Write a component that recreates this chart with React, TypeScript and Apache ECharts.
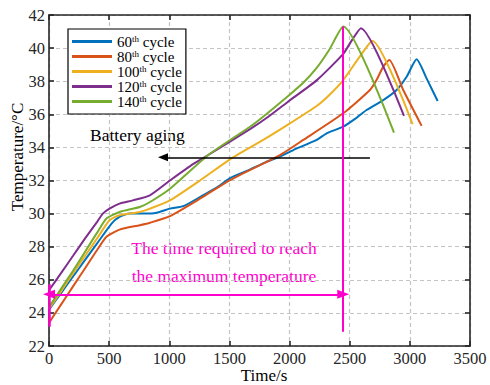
import React, { useEffect, useRef } from "react";
import * as echarts from "echarts";

// ---- data ----
const seriesNames = ["60th cycle", "80th cycle", "100th cycle", "120th cycle", "140th cycle"];
const seriesColors = ["#0072BD", "#D95319", "#EDB120", "#7E2F8E", "#77AC30"];

const t60 = [0, 100, 200, 300, 400, 520, 586, 669, 750, 840, 920, 1006, 1117, 1255, 1400, 1505, 1650, 1800, 1920, 2031, 2225, 2308, 2446, 2550, 2640, 2779, 2890, 2973, 3056, 3139, 3231];
const T60 = [24.2, 25.2, 26.2, 27.2, 28.2, 29.4, 29.8, 30.0, 30.0, 30.0, 30.1, 30.3, 30.45, 31.0, 31.6, 32.15, 32.6, 33.1, 33.45, 33.84, 34.45, 34.85, 35.25, 35.75, 36.26, 36.86, 37.47, 38.27, 39.32, 38.17, 36.8];

const t80 = [0, 100, 200, 300, 400, 478, 586, 755, 840, 1006, 1255, 1505, 1920, 2114, 2446, 2668, 2723, 2779, 2829, 2945, 3098];
const T80 = [23.4, 24.5, 25.6, 26.7, 27.8, 28.6, 29.03, 29.3, 29.45, 29.85, 30.9, 32.03, 33.54, 34.45, 36.06, 37.47, 38.07, 38.88, 39.28, 37.47, 35.3];

const t100 = [0, 100, 200, 300, 400, 503, 586, 755, 840, 1006, 1255, 1505, 1781, 2003, 2225, 2335, 2446, 2585, 2688, 3023];
const T100 = [24.25, 25.3, 26.4, 27.45, 28.5, 29.6, 29.9, 30.1, 30.3, 30.8, 32.0, 33.28, 34.45, 35.45, 36.5, 37.2, 38.07, 39.5, 40.45, 35.4];

const t120 = [0, 100, 200, 300, 400, 447, 503, 586, 697, 838, 1006, 1200, 1324, 1671, 1823, 2003, 2225, 2446, 2520, 2593, 2951];
const T120 = [25.37, 26.4, 27.45, 28.5, 29.5, 30.0, 30.3, 30.6, 30.8, 31.1, 32.0, 33.0, 33.54, 35.1, 35.85, 36.85, 38.05, 39.65, 40.5, 41.2, 35.9];

const t140 = [0, 100, 200, 300, 400, 478, 586, 755, 840, 1006, 1324, 1671, 1754, 2003, 2120, 2225, 2330, 2446, 2868];
const T140 = [24.35, 25.45, 26.55, 27.7, 28.85, 29.7, 30.1, 30.4, 30.7, 31.5, 33.54, 35.25, 35.7, 37.2, 37.95, 38.8, 39.9, 41.3, 34.89];

const times = [t60, t80, t100, t120, t140];
const temps = [T60, T80, T100, T120, T140];

// annotations (data coordinates)
const agingArrowFrom = [2668, 33.4];
const agingArrowTo = [948, 33.4];
const timeArrowFrom = [0, 25.12];
const timeArrowTo = [2446, 25.12];
const peakLineTop = [2446, 41.3];
const peakLineBottom = [2446, 22.86];
const axisMarkTop = [0, 25.73];
const axisMarkBottom = [0, 23.17];

const xMin = 0, xMax = 3500, xStep = 500;
const yMin = 22, yMax = 42, yStep = 2;

const FONT = "Liberation Serif";
const PINK = "#FF00CC";
const AXIS = "#262626";

export default function App() {
  const ref = useRef<HTMLDivElement>(null);
  useEffect(() => {
    if (!ref.current) return;
    const chart = echarts.init(ref.current, undefined, { renderer: "svg" });
    const lineSeries = seriesNames.map((name, i) => ({
      name,
      type: "line",
      data: times[i].map((t, j) => [t, temps[i][j]]),
      showSymbol: false,
      symbol: "none",
      smooth: 0.2,
      lineStyle: { color: seriesColors[i], width: 2 },
      itemStyle: { color: seriesColors[i] },
      z: 3,
    }));
    const splitLine = { show: true, lineStyle: { color: "#c4c4c4", type: [4, 3], width: 1.2 } };
    const axisLine = { show: true, onZero: false, lineStyle: { color: AXIS, width: 1.6 } };
    const axisTick = { show: true, inside: true, length: 5, lineStyle: { color: AXIS, width: 1.6 } };
    const option: any = {
      animation: false,
      textStyle: { fontFamily: FONT },
      grid: { left: 49, right: 20, top: 15, bottom: 39 },
      xAxis: [
        {
          type: "value", min: xMin, max: xMax, interval: xStep, position: "bottom",
          axisLine, axisTick, splitLine,
          axisLabel: { fontFamily: FONT, fontSize: 16.5, lineHeight: 16, color: AXIS, margin: 4, formatter: (v: number) => String(v) },
        },
        {
          type: "value", min: xMin, max: xMax, interval: xStep, position: "top",
          axisLine, axisTick, splitLine: { show: false }, axisLabel: { show: false },
        },
      ],
      yAxis: [
        {
          type: "value", min: yMin, max: yMax, interval: yStep, position: "left",
          axisLine, axisTick, splitLine,
          axisLabel: { fontFamily: FONT, fontSize: 16.5, color: AXIS, margin: 4, formatter: (v: number) => String(v) },
        },
        {
          type: "value", min: yMin, max: yMax, interval: yStep, position: "right",
          axisLine, axisTick, splitLine: { show: false }, axisLabel: { show: false },
        },
      ],
      legend: {
        data: seriesNames,
        orient: "vertical",
        left: 68,
        top: 29,
        padding: [5, 4, 5, 4],
        itemGap: 0,
        itemWidth: 40,
        itemHeight: 3,
        icon: "rect",
        backgroundColor: "#ffffff",
        borderColor: "#000000",
        borderWidth: 1.2,
        borderRadius: 0,
        z: 10,
        formatter: (name: string) => name.replace(/^(\d+)th/, "$1{s|th}"),
        textStyle: {
          fontFamily: FONT, fontSize: 15, color: "#000", lineHeight: 15,
          rich: { s: { fontFamily: FONT, fontSize: 9, lineHeight: 15, verticalAlign: "top", color: "#000" } },
        },
      },
      series: [
        ...lineSeries,
        {
          name: "agingArrow", type: "line", data: [], silent: true,
          markLine: {
            silent: true, animation: false,
            symbol: ["none", "triangle"], symbolSize: [8, 10],
            label: { show: false },
            lineStyle: { color: "#000", width: 1.6, type: "solid" },
            emphasis: { disabled: true },
            data: [[{ coord: agingArrowFrom }, { coord: agingArrowTo }]],
          },
        },
        {
          name: "timeArrow", type: "line", data: [], silent: true,
          markLine: {
            silent: true, animation: false,
            symbol: ["triangle", "triangle"], symbolSize: [9, 12],
            label: { show: false },
            lineStyle: { color: PINK, width: 2, type: "solid" },
            emphasis: { disabled: true },
            data: [[{ coord: timeArrowFrom }, { coord: timeArrowTo }]],
          },
        },
        {
          name: "pinkLines", type: "line", data: [], silent: true,
          markLine: {
            silent: true, animation: false,
            symbol: ["none", "none"],
            label: { show: false },
            lineStyle: { color: PINK, width: 2, type: "solid" },
            emphasis: { disabled: true },
            data: [
              [{ coord: peakLineTop }, { coord: peakLineBottom }],
              [{ coord: axisMarkTop, lineStyle: { width: 2.5 } }, { coord: axisMarkBottom }],
            ],
          },
        },
      ],
      graphic: [
        {
          type: "text", x: 17, y: 157, rotation: Math.PI / 2,
          style: { text: "Temperature/°C", font: `17px ${FONT}`, fill: "#000", align: "center", verticalAlign: "middle" },
        },
        {
          type: "text", x: 264, y: 375,
          style: { text: "Time/s", font: `17px ${FONT}`, lineHeight: 16, fill: "#000", align: "center", verticalAlign: "middle" },
        },
        {
          type: "text", x: 90, y: 135,
          style: { text: "Battery aging", font: `17.5px ${FONT}`, fill: "#000", align: "left", verticalAlign: "middle" },
        },
        {
          type: "text", x: 224, y: 248,
          style: { text: "The time required to reach", font: `17.5px ${FONT}`, fill: PINK, align: "center", verticalAlign: "middle" },
        },
        {
          type: "text", x: 224, y: 276,
          style: { text: "the maximum temperature", font: `17.5px ${FONT}`, fill: PINK, align: "center", verticalAlign: "middle" },
        },
      ],
    };
    chart.setOption(option);
    return () => chart.dispose();
  }, []);
  return <div ref={ref} style={{ position: "fixed", left: 0, top: 0, width: 490, height: 385, background: "#fff" }} />;
}
